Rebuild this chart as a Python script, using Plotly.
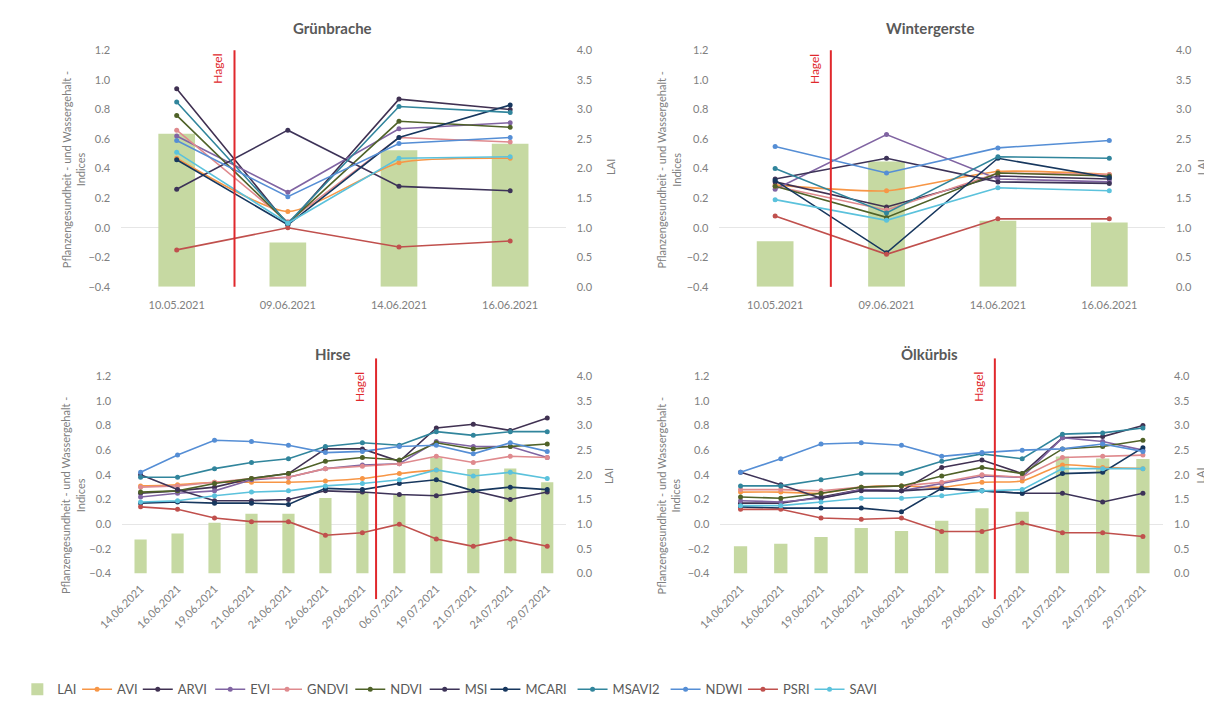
import plotly.graph_objects as go

# page offset of the plot div (browser default body margin) and figure size
OFF = 8
W, H = 1212 - OFF, 709 - OFF


def fx(x):
    return (x - OFF) / W


def fy(y):
    return 1 - (y - OFF) / H


# ---------------- categories ----------------
TOP_DATES = ["10.05.2021", "09.06.2021", "14.06.2021", "16.06.2021"]
HIRSE_DATES = ["14.06.2021", "16.06.2021", "19.06.2021", "21.06.2021", "24.06.2021", "26.06.2021",
               "29.06.2021", "06.07.2021", "19.07.2021", "21.07.2021", "24.07.2021", "29.07.2021"]
OEL_DATES = ["14.06.2021", "16.06.2021", "19.06.2021", "21.06.2021", "24.06.2021", "26.06.2021",
             "29.06.2021", "06.07.2021", "21.07.2021", "24.07.2021", "29.07.2021"]

LEFT_TICKS = [-0.4, -0.2, 0.0, 0.2, 0.4, 0.6, 0.8, 1.0, 1.2]
RIGHT_TICKS = [0.0, 0.5, 1.0, 1.5, 2.0, 2.5, 3.0, 3.5, 4.0]

# ---------------- Grünbrache ----------------
GB_LAI = [2.59, 0.75, 2.31, 2.42]
GB_AVI = [0.47, 0.11, 0.44, 0.47]
GB_ARVI = [0.94, 0.02, 0.87, 0.80]
GB_EVI = [0.62, 0.24, 0.67, 0.71]
GB_GNDVI = [0.66, 0.04, 0.61, 0.58]
GB_NDVI = [0.76, 0.03, 0.72, 0.68]
GB_MSI = [0.26, 0.66, 0.28, 0.25]
GB_MCARI = [0.46, 0.02, 0.61, 0.83]
GB_MSAVI2 = [0.85, 0.03, 0.82, 0.78]
GB_NDWI = [0.59, 0.21, 0.57, 0.61]
GB_PSRI = [-0.15, 0.00, -0.13, -0.09]
GB_SAVI = [0.51, 0.03, 0.47, 0.48]

# ---------------- Wintergerste ----------------
WG_LAI = [0.77, 2.12, 1.12, 1.09]
WG_AVI = [0.29, 0.25, 0.38, 0.36]
WG_ARVI = [0.31, 0.14, 0.35, 0.33]
WG_EVI = [0.26, 0.63, 0.33, 0.31]
WG_GNDVI = [0.28, 0.12, 0.37, 0.36]
WG_NDVI = [0.28, 0.07, 0.37, 0.35]
WG_MSI = [0.33, 0.47, 0.31, 0.30]
WG_MCARI = [0.32, -0.17, 0.47, 0.34]
WG_MSAVI2 = [0.40, 0.10, 0.48, 0.47]
WG_NDWI = [0.55, 0.37, 0.54, 0.59]
WG_PSRI = [0.08, -0.18, 0.06, 0.06]
WG_SAVI = [0.19, 0.05, 0.27, 0.25]

# ---------------- Hirse ----------------
HI_LAI = [0.69, 0.81, 1.03, 1.21, 1.21, 1.53, 1.64, 1.60, 2.35, 2.12, 2.13, 1.85]
HI_AVI = [0.31, 0.32, 0.34, 0.34, 0.34, 0.35, 0.37, 0.41, 0.44, None, None, None]
HI_ARVI = [0.25, 0.27, 0.30, 0.37, 0.41, 0.61, 0.61, 0.51, 0.78, 0.81, 0.76, 0.86]
HI_EVI = [0.22, 0.25, 0.27, 0.36, 0.38, 0.45, 0.48, 0.49, 0.67, 0.63, 0.63, 0.54]
HI_GNDVI = [0.30, 0.31, 0.34, 0.37, 0.38, 0.45, 0.47, 0.49, 0.55, 0.50, 0.55, 0.54]
HI_NDVI = [0.26, 0.27, 0.33, 0.37, 0.41, 0.51, 0.54, 0.52, 0.66, 0.61, 0.63, 0.65]
HI_MSI = [0.40, 0.28, 0.19, 0.19, 0.20, 0.27, 0.26, 0.24, 0.23, 0.27, 0.20, 0.26]
HI_MCARI = [0.17, 0.18, 0.17, 0.17, 0.16, 0.29, 0.28, 0.33, 0.36, 0.27, 0.30, 0.28]
HI_MSAVI2 = [0.38, 0.38, 0.45, 0.50, 0.53, 0.63, 0.66, 0.64, 0.75, 0.72, 0.75, 0.75]
HI_NDWI = [0.42, 0.56, 0.68, 0.67, 0.64, 0.58, 0.59, 0.63, 0.64, 0.57, 0.66, 0.59]
HI_PSRI = [0.14, 0.12, 0.05, 0.02, 0.02, -0.09, -0.07, 0.00, -0.12, -0.18, -0.12, -0.18]
HI_SAVI = [0.18, 0.19, 0.23, 0.26, 0.27, 0.31, 0.33, 0.36, 0.44, 0.39, 0.42, 0.37]

# ---------------- Ölkürbis ----------------
OK_LAI = [0.55, 0.60, 0.74, 0.92, 0.86, 1.07, 1.32, 1.25, 2.37, 2.33, 2.32]
OK_AVI = [0.26, 0.26, 0.25, 0.30, 0.31, 0.30, 0.34, 0.35, 0.48, 0.46, 0.45]
OK_ARVI = [0.17, 0.17, 0.22, 0.28, 0.27, 0.46, 0.52, 0.41, 0.70, 0.71, 0.80]
OK_EVI = [0.19, 0.18, 0.21, 0.28, 0.27, 0.33, 0.39, 0.38, 0.70, 0.67, 0.60]
OK_GNDVI = [0.28, 0.28, 0.27, 0.30, 0.31, 0.34, 0.40, 0.38, 0.54, 0.55, 0.56]
OK_NDVI = [0.22, 0.21, 0.25, 0.30, 0.31, 0.39, 0.46, 0.41, 0.61, 0.63, 0.68]
OK_MSI = [0.42, 0.32, 0.21, 0.27, 0.27, 0.29, 0.27, 0.25, 0.25, 0.18, 0.25]
OK_MCARI = [0.14, 0.13, 0.13, 0.13, 0.10, 0.29, 0.27, 0.25, 0.41, 0.42, 0.62]
OK_MSAVI2 = [0.31, 0.31, 0.36, 0.41, 0.41, 0.51, 0.57, 0.53, 0.73, 0.74, 0.78]
OK_NDWI = [0.42, 0.53, 0.65, 0.66, 0.64, 0.55, 0.58, 0.60, 0.61, 0.65, 0.59]
OK_PSRI = [0.12, 0.12, 0.05, 0.04, 0.05, -0.06, -0.06, 0.01, -0.07, -0.07, -0.10]
OK_SAVI = [0.15, 0.15, 0.18, 0.21, 0.21, 0.23, 0.27, 0.28, 0.45, 0.45, 0.45]

SERIES = ["AVI", "ARVI", "EVI", "GNDVI", "NDVI", "MSI", "MCARI", "MSAVI2", "NDWI", "PSRI", "SAVI"]
COLORS = {
    "LAI": "#c6d9a2",
    "AVI": "#f79646",
    "ARVI": "#403152",
    "EVI": "#8064a2",
    "GNDVI": "#df8a8e",
    "NDVI": "#4f6228",
    "MSI": "#3d3358",
    "MCARI": "#17375e",
    "MSAVI2": "#31859c",
    "NDWI": "#558ed5",
    "PSRI": "#c0504d",
    "SAVI": "#5bc2dc",
}
SMOOTHED = {"AVI"}

panels = [
    dict(title="Grünbrache", dates=TOP_DATES, lai=GB_LAI,
         vals=[GB_AVI, GB_ARVI, GB_EVI, GB_GNDVI, GB_NDVI, GB_MSI, GB_MCARI, GB_MSAVI2, GB_NDWI, GB_PSRI, GB_SAVI],
         hagel=0.52, box=(98, 552, 44, 285), angle=0, hy=(0.0, 1.0), hty=0.92,
         title_xy=(314, 21), ltitle=(49, 166), rtitle=(597, 163)),
    dict(title="Wintergerste", dates=TOP_DATES, lai=WG_LAI,
         vals=[WG_AVI, WG_ARVI, WG_EVI, WG_GNDVI, WG_NDVI, WG_MSI, WG_MCARI, WG_MSAVI2, WG_NDWI, WG_PSRI, WG_SAVI],
         hagel=0.50, box=(709, 1164, 44, 285), angle=0, hy=(0.0, 1.0), hty=0.92,
         title_xy=(924, 21), ltitle=(657, 166), rtitle=(1201, 163)),
    dict(title="Hirse", dates=HIRSE_DATES, lai=HI_LAI,
         vals=[HI_AVI, HI_ARVI, HI_EVI, HI_GNDVI, HI_NDVI, HI_MSI, HI_MCARI, HI_MSAVI2, HI_NDWI, HI_PSRI, HI_SAVI],
         hagel=6.37, box=(99, 552, 376, 577), angle=-45, hy=(-0.13, 1.09), hty=0.945,
         title_xy=(314, 353), ltitle=(49, 498), rtitle=(595, 478)),
    dict(title="Ölkürbis", dates=OEL_DATES, lai=OK_LAI,
         vals=[OK_AVI, OK_ARVI, OK_EVI, OK_GNDVI, OK_NDVI, OK_MSI, OK_MCARI, OK_MSAVI2, OK_NDWI, OK_PSRI, OK_SAVI],
         hagel=6.32, box=(710, 1162, 376, 577), angle=-45, hy=(-0.13, 1.09), hty=0.945,
         title_xy=(924, 353), ltitle=(657, 498), rtitle=(1200, 477)),
]

FONT = "Lato, 'Open Sans', sans-serif"
TICKCOL = "#808080"
LEG_TEXT_X = [32, 93, 155, 229, 287, 372, 448, 510, 599, 694, 773, 841]

fig = go.Figure()
layout = dict(
    width=W, height=H, margin=dict(l=0, r=0, t=0, b=0),
    paper_bgcolor="white", plot_bgcolor="rgba(0,0,0,0)",
    font=dict(family=FONT, size=11, color=TICKCOL),
    bargap=0.67, showlegend=True,
)
annotations = []
shapes = []

for k, p in enumerate(panels):
    xi = k + 1
    b = 2 * k + 1
    o = 2 * k + 2
    xname = "x" if xi == 1 else f"x{xi}"
    bname = "y" if b == 1 else f"y{b}"
    oname = f"y{o}"
    x0, x1, yt, yb = p["box"]
    n = len(p["dates"])
    xdom = [fx(x0), fx(x1)]
    ydom = [fy(yb), fy(yt)]
    layout["xaxis" if xi == 1 else f"xaxis{xi}"] = dict(
        domain=xdom, anchor=bname, type="category", range=[-0.5, n - 0.5],
        showgrid=False, showline=False, zeroline=False, ticks="",
        tickangle=p["angle"], tickfont=dict(size=11, color=TICKCOL),
        ticklabelstandoff=10 if p["angle"] == 0 else 6,
        categoryorder="array", categoryarray=p["dates"],
    )
    layout["yaxis" if b == 1 else f"yaxis{b}"] = dict(
        domain=ydom, anchor=xname, side="right", range=[0, 4],
        tickvals=RIGHT_TICKS, tickformat=".1f", showgrid=False, zeroline=False,
        showline=False, ticks="", ticklabelstandoff=10, tickfont=dict(size=11, color=TICKCOL),
    )
    layout[f"yaxis{o}"] = dict(
        overlaying=bname, anchor=xname, side="left", range=[-0.4, 1.2],
        tickvals=LEFT_TICKS, tickformat=".1f", showgrid=False,
        zeroline=True, zerolinecolor="#e6e6e6", zerolinewidth=1,
        showline=False, ticks="", ticklabelstandoff=10, tickfont=dict(size=11, color=TICKCOL),
    )

    fig.add_trace(go.Bar(
        x=p["dates"], y=p["lai"], name="LAI", marker=dict(color=COLORS["LAI"], line=dict(width=0)),
        xaxis=xname, yaxis=bname, showlegend=(k == 0), legend="legend",
    ))
    for j, (nm, vals) in enumerate(zip(SERIES, p["vals"])):
        smooth = nm in SMOOTHED
        fig.add_trace(go.Scatter(
            x=p["dates"], y=vals, name=nm, mode="lines+markers",
            line=dict(color=COLORS[nm], width=1.6,
                      shape="spline" if smooth else "linear", smoothing=0.6 if smooth else None),
            marker=dict(color=COLORS[nm], size=5),
            xaxis=xname, yaxis=oname, showlegend=(k == 0), legend=f"legend{j + 2}",
        ))

    # Hagel line + label
    hy0, hy1 = p["hy"]
    shapes.append(dict(type="line", xref=xname, yref=f"{bname} domain",
                       x0=p["hagel"], x1=p["hagel"], y0=hy0, y1=hy1,
                       line=dict(color="#e0282c", width=2), layer="above"))
    annotations.append(dict(text="Hagel", xref=xname, yref=f"{bname} domain",
                            x=p["hagel"], y=p["hty"], xshift=-17, showarrow=False,
                            xanchor="center", yanchor="middle",
                            textangle=-90, font=dict(family=FONT, size=12, color="#e0282c")))
    # title
    tx, ty = p["title_xy"]
    annotations.append(dict(text=f"<b>{p['title']}</b>", xref="paper", yref="paper",
                            x=fx(tx), y=fy(ty), showarrow=False, xanchor="center", yanchor="middle",
                            font=dict(family=FONT, size=15, color="#595959")))
    lx, ly = p["ltitle"]
    annotations.append(dict(text="Pflanzengesundheit - und Wassergehalt -<br>Indices",
                            xref="paper", yref="paper", x=fx(lx), y=fy(ly), showarrow=False,
                            textangle=-90, xanchor="center", yanchor="middle",
                            font=dict(family=FONT, size=11, color=TICKCOL)))
    rx, ry = p["rtitle"]
    annotations.append(dict(text="LAI", xref="paper", yref="paper", x=fx(rx), y=fy(ry),
                            showarrow=False, textangle=-90, xanchor="center", yanchor="middle",
                            font=dict(family=FONT, size=11, color=TICKCOL)))

for i, tx in enumerate(LEG_TEXT_X):
    key = "legend" if i == 0 else f"legend{i + 1}"
    layout[key] = dict(x=fx(tx - 40), y=fy(695), xanchor="left", yanchor="middle",
                       orientation="h", bgcolor="rgba(0,0,0,0)", borderwidth=0,
                       font=dict(family=FONT, size=13, color="#595959"), itemwidth=30)

layout["annotations"] = annotations
layout["shapes"] = shapes
fig.update_layout(**layout)
fig.write_html("out.html")
